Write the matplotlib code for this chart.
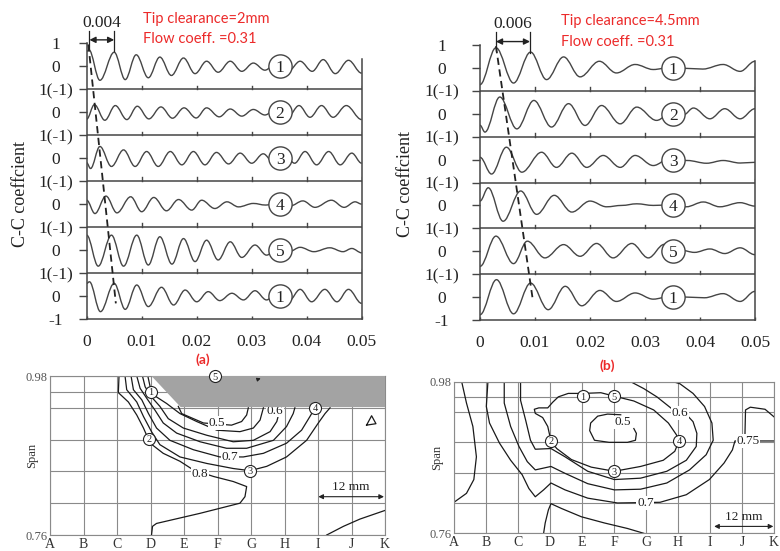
import matplotlib
matplotlib.use("Agg")
import matplotlib.pyplot as plt
from matplotlib.path import Path
from matplotlib.patches import PathPatch, Polygon

SERIF = "Liberation Serif"
SANS = "Lato"
RED = "#ec2a2a"
INK = "#454545"

# ---------------- C-C coefficient traces ----------------
t_ticks = [0, 0.01, 0.02, 0.03, 0.04, 0.05]
t_ticklabels = ["0", "0.01", "0.02", "0.03", "0.04", "0.05"]
probe_labels = ["1", "2", "3", "4", "5", "1"]

# extrema of each trace: time in ms, coefficient
a1_t = [0, 0.4, 2.4, 5.0, 7.0, 9.0, 11.2, 13.3, 15.4, 17.6, 19.7, 21.8, 23.9, 26.1, 28.2, 30.3, 32.4, 34.5, 36.7, 38.8, 41.0, 43.0, 45.2, 47.6, 50.0]
a1_v = [0.65, 0.72, -0.61, 0.61, -0.58, 0.5, -0.5, 0.4, -0.4, 0.36, -0.32, 0.22, -0.26, 0.22, -0.22, 0.14, -0.17, 0.15, -0.2, 0.22, -0.22, 0.29, -0.32, 0.26, -0.3]
a2_t = [0, 1.4, 3.3, 5.2, 7.3, 9.2, 11.3, 13.5, 15.6, 17.7, 19.9, 21.8, 24.1, 26.1, 28.2, 30.3, 32.4, 34.5, 36.6, 38.6, 40.6, 42.7, 44.8, 47.2, 50.0]
a2_v = [-0.3, 0.33, -0.35, 0.29, -0.32, 0.26, -0.29, 0.23, -0.26, 0.19, -0.25, 0.19, -0.2, 0.14, -0.17, 0.12, -0.12, 0.15, -0.2, 0.29, -0.22, 0.29, -0.22, 0.29, -0.32]
a3_t = [0, 0.7, 2.4, 4.5, 6.7, 8.8, 10.9, 13.0, 15.2, 17.3, 19.4, 21.5, 23.6, 25.8, 27.9, 30.0, 32.1, 34.0, 35.9, 37.8, 39.7, 41.8, 44.0, 46.1, 48.2, 50.0]
a3_v = [-0.2, -0.45, 0.51, -0.36, 0.36, -0.36, 0.29, -0.36, 0.29, -0.29, 0.29, -0.29, 0.25, -0.25, 0.22, -0.22, 0.19, -0.2, 0.2, -0.22, 0.29, -0.29, 0.29, -0.29, 0.22, -0.22]
a4_t = [0, 1.5, 3.5, 5.5, 8.0, 10.0, 12.2, 14.5, 16.7, 19.1, 20.9, 23.3, 25.5, 27.6, 30.3, 32.5, 34.8, 37.0, 39.3, 41.5, 44.5, 46.8, 48.8, 50.0]
a4_v = [0.17, -0.41, 0.35, -0.38, 0.32, -0.33, 0.29, -0.29, 0.2, -0.26, 0.17, -0.19, 0.1, -0.12, 0.03, -0.04, 0.05, -0.08, 0.14, -0.14, 0.17, -0.14, 0.1, 0.0]
a5_t = [0, 2.1, 4.5, 6.7, 9.1, 11.2, 13.3, 15.5, 17.6, 19.7, 21.8, 23.9, 26.1, 28.2, 30.6, 32.7, 34.8, 36.8, 38.8, 41.3, 44.2, 46.6, 48.2, 50.0]
a5_v = [0.65, -0.7, 0.65, -0.7, 0.65, -0.65, 0.58, -0.61, 0.5, -0.5, 0.43, -0.43, 0.36, -0.32, 0.22, -0.22, 0.1, -0.07, 0.12, -0.07, 0.1, -0.07, 0.07, -0.12]
a6_t = [0, 0.5, 2.5, 5.0, 7.0, 9.1, 11.2, 13.6, 15.8, 17.9, 20.0, 22.1, 24.2, 26.4, 28.5, 30.6, 32.7, 34.7, 36.8, 38.8, 40.9, 43.3, 45.5, 47.6, 50.0]
a6_v = [0.55, 0.62, -0.68, 0.55, -0.58, 0.48, -0.46, 0.38, -0.39, 0.26, -0.25, 0.19, -0.2, 0.12, -0.17, 0.23, -0.17, 0.2, -0.2, 0.29, -0.25, 0.29, -0.25, 0.29, -0.32]

b1_t = [0, 2.9, 6.1, 9.2, 12.1, 15.2, 18.2, 21.7, 24.8, 28.2, 31.5, 34.5, 37.5, 40.5, 44.2, 47.3, 50.0]
b1_v = [-0.73, 0.88, -0.66, 0.69, -0.51, 0.48, -0.39, 0.29, -0.22, 0.15, -0.07, 0.02, -0.02, -0.05, 0.15, -0.15, 0.29]
b2_t = [0, 0.9, 3.6, 6.7, 9.8, 13.0, 16.1, 19.1, 22.1, 25.5, 28.5, 32.1, 35.0, 37.0, 38.8, 41.8, 44.5, 47.3, 50.0]
b2_v = [-0.5, -0.8, 0.73, -0.66, 0.58, -0.58, 0.44, -0.51, 0.36, -0.44, 0.29, -0.29, 0.1, -0.05, 0.25, -0.22, 0.22, -0.22, 0.22]
b3_t = [0, 2.1, 4.8, 7.6, 11.2, 13.9, 16.7, 19.4, 22.4, 25.5, 28.2, 31.5, 34.5, 37.7, 41.2, 44.2, 47.3, 50.0]
b3_v = [0.1, -0.63, 0.54, -0.55, 0.32, -0.34, 0.28, -0.34, 0.18, -0.34, 0.18, -0.26, 0.05, -0.04, -0.16, -0.04, -0.15, -0.12]
b4_t = [0, 1.5, 4.2, 7.4, 10.3, 13.5, 16.7, 20.0, 23.0, 25.8, 28.5, 31.5, 34.5, 37.5, 40.6, 43.6, 47.3, 50.0]
b4_v = [0.19, 0.77, -0.69, 0.63, -0.39, 0.44, -0.29, 0.19, -0.06, 0.0, 0.07, 0.0, 0.02, -0.06, 0.15, -0.06, 0.12, -0.03]
b5_t = [0, 2.9, 6.1, 8.6, 11.8, 15.2, 18.2, 21.2, 24.2, 27.6, 30.6, 33.5, 36.5, 39.0, 41.8, 44.5, 47.3, 50.0]
b5_v = [-0.66, 0.66, -0.54, 0.44, -0.29, 0.29, -0.22, 0.34, -0.29, 0.34, -0.29, 0.3, 0.05, -0.05, 0.1, -0.1, 0.15, -0.15]
b6_t = [0, 3.0, 6.1, 9.2, 12.4, 15.5, 18.5, 21.8, 24.8, 28.2, 31.5, 34.5, 37.5, 40.8, 44.2, 47.3, 50.0]
b6_v = [-0.77, 0.76, -0.73, 0.61, -0.55, 0.47, -0.38, 0.29, -0.19, 0.18, -0.09, 0.03, 0.0, -0.03, 0.15, -0.19, 0.25]

# dashed phase line (ms, stacked axis units) and the period marker (ms)
a_dash_t, a_dash_y = [0.3, 5.3], [11.95, 0.68]
b_dash_t, b_dash_y = [2.9, 9.6], [11.95, 0.88]
a_period = (0.5, 5.0, "0.004")
b_period = (2.9, 9.1, "0.006")

# ---------------- span contours (x in grid columns A=0 .. K=10) ----------------
columns = ["A", "B", "C", "D", "E", "F", "G", "H", "I", "J", "K"]
span_grid = [0.76, 0.804, 0.848, 0.892, 0.936, 0.958, 0.98]

ca_05 = [(3.83, 0.938), (3.93, 0.928), (4.28, 0.921), (4.58, 0.915), (5.42, 0.912), (5.72, 0.917), (5.87, 0.926), (5.92, 0.936)]
ca_055 = [(2.92, 0.980), (2.99, 0.965), (3.18, 0.951), (3.48, 0.942), (3.88, 0.928), (4.38, 0.917), (4.98, 0.905), (5.67, 0.903), (6.07, 0.908), (6.27, 0.919), (6.37, 0.936)]
ca_06 = [(2.76, 0.980), (2.84, 0.965), (3.03, 0.951), (3.28, 0.938), (3.53, 0.921), (3.98, 0.908), (4.68, 0.898), (5.47, 0.889), (6.07, 0.891), (6.57, 0.903), (6.77, 0.917), (6.82, 0.926)]
ca_065 = [(2.59, 0.980), (2.69, 0.963), (2.89, 0.949), (3.13, 0.933), (3.38, 0.915), (3.78, 0.901), (4.48, 0.889), (5.27, 0.880), (5.87, 0.880), (6.67, 0.891), (7.06, 0.910), (7.26, 0.928), (7.31, 0.936)]
ca_07 = [(2.42, 0.980), (2.49, 0.961), (2.74, 0.947), (2.94, 0.928), (3.18, 0.908), (3.58, 0.891), (4.28, 0.878), (5.07, 0.868), (5.77, 0.868), (6.37, 0.873), (7.06, 0.887), (7.51, 0.905), (7.76, 0.924), (7.91, 0.936)]
ca_075 = [(2.24, 0.980), (2.29, 0.961), (2.59, 0.944), (2.79, 0.924), (3.03, 0.903), (3.28, 0.885), (3.88, 0.868), (4.68, 0.859), (5.47, 0.852), (5.97, 0.849), (6.47, 0.855), (7.06, 0.868), (7.66, 0.891), (8.01, 0.915), (8.21, 0.928), (8.36, 0.936)]
ca_08 = [(2.06, 0.980), (2.04, 0.957), (2.34, 0.944), (2.59, 0.926), (2.79, 0.908), (2.99, 0.887), (3.38, 0.873), (3.88, 0.862), (4.28, 0.850), (4.88, 0.841), (5.47, 0.834), (5.87, 0.827), (5.82, 0.813), (5.67, 0.804), (4.48, 0.790), (3.18, 0.776), (3.06, 0.772), (3.03, 0.760)]
ca_corner = [(8.26, 0.760), (8.76, 0.772), (9.25, 0.782), (10.0, 0.794)]
ca_island = [(9.45, 0.912), (9.60, 0.925), (9.73, 0.914), (9.45, 0.912)]
ca_lines = [ca_05, ca_055, ca_06, ca_065, ca_07, ca_075, ca_08, ca_corner, ca_island]
ca_labels = [("0.5", 4.98, 0.915), ("0.6", 6.72, 0.932), ("0.7", 5.37, 0.868), ("0.8", 4.48, 0.845)]
ca_probes = [("1", 3.0, 0.958), ("2", 2.97, 0.893), ("3", 5.97, 0.849), ("4", 7.91, 0.936), ("5", 4.93, 0.980)]
ca_shroud = [(3.03, 0.980), (3.9, 0.937), (10.0, 0.937), (10.0, 0.980)]
ca_scale = (8.01, 9.97, 0.813)

cb_05 = [(5.21, 0.932), (4.80, 0.933), (4.49, 0.930), (4.27, 0.920), (4.24, 0.909), (4.39, 0.895), (4.85, 0.892), (5.42, 0.892), (5.67, 0.895), (5.70, 0.905), (5.62, 0.912)]
cb_l1 = [(4.03, 0.963), (4.59, 0.964), (5.01, 0.959), (5.62, 0.952), (6.24, 0.939), (6.70, 0.920), (6.95, 0.903), (7.03, 0.894), (6.90, 0.879), (6.54, 0.866), (5.83, 0.857), (5.01, 0.850), (4.29, 0.856), (3.67, 0.867), (3.21, 0.883), (3.03, 0.894), (2.93, 0.915), (2.77, 0.928), (2.54, 0.934), (2.51, 0.940), (2.65, 0.942), (2.93, 0.942), (3.08, 0.950), (3.26, 0.958), (3.57, 0.963), (4.03, 0.963)]
cb_l2 = [(2.08, 0.980), (2.08, 0.953), (2.24, 0.924), (2.39, 0.895), (2.54, 0.882), (3.03, 0.883), (3.47, 0.871), (4.18, 0.850), (5.01, 0.838), (5.83, 0.840), (6.65, 0.850), (7.26, 0.866), (7.57, 0.886), (7.59, 0.905), (7.47, 0.922), (7.31, 0.930), (6.80, 0.941), (6.34, 0.958), (5.93, 0.970), (5.52, 0.980)]
cb_l3 = [(1.57, 0.980), (1.57, 0.949), (1.77, 0.915), (2.03, 0.886), (2.29, 0.864), (2.54, 0.852), (3.03, 0.857), (3.47, 0.847), (4.18, 0.832), (5.01, 0.823), (5.83, 0.824), (6.65, 0.833), (7.36, 0.852), (7.88, 0.874), (8.10, 0.895), (8.06, 0.920), (7.83, 0.944), (7.47, 0.963), (7.06, 0.977), (6.85, 0.980)]
cb_l4 = [(1.06, 0.980), (1.01, 0.944), (1.11, 0.920), (1.42, 0.891), (1.77, 0.866), (2.13, 0.845), (2.34, 0.825), (2.54, 0.813), (2.80, 0.823), (3.03, 0.833), (3.47, 0.823), (4.18, 0.811), (5.11, 0.804), (6.44, 0.805), (7.26, 0.816), (7.98, 0.838), (8.44, 0.862), (8.70, 0.881), (8.78, 0.894), (10.0, 0.894)]
cb_l5 = [(2.80, 0.760), (2.85, 0.775), (2.95, 0.794), (3.03, 0.803), (3.36, 0.796), (3.98, 0.784), (4.70, 0.775), (5.42, 0.767), (5.93, 0.760)]
cb_left = [(0.24, 0.980), (0.39, 0.949), (0.59, 0.915), (0.70, 0.871), (0.62, 0.838), (0.39, 0.818), (0.0, 0.805)]
cb_right = [(9.09, 0.898), (9.11, 0.939), (9.26, 0.943), (9.72, 0.940), (10.0, 0.929)]
cb_lines = [cb_05, cb_l1, cb_l2, cb_l3, cb_l4, cb_l5, cb_left, cb_right]
cb_labels = [("0.5", 5.26, 0.921), ("0.6", 7.06, 0.935), ("0.7", 5.98, 0.804), ("0.75", 9.19, 0.894)]
cb_probes = [("1", 4.03, 0.959), ("5", 5.01, 0.959), ("2", 3.03, 0.894), ("3", 5.01, 0.850), ("4", 7.03, 0.894)]
cb_scale = (8.13, 9.98, 0.770)

W, H = 780, 551


def px_box(left, top, right, bottom):
    return [left / W, 1 - bottom / H, (right - left) / W, (bottom - top) / H]


def wave_path(t_ms, vals, offset):
    # smooth curve through the read extrema (horizontal tangent at each)
    verts = [(t_ms[0] * 1e-3, vals[0] + offset)]
    codes = [Path.MOVETO]
    for i in range(len(t_ms) - 1):
        t0, t1 = t_ms[i] * 1e-3, t_ms[i + 1] * 1e-3
        y0, y1 = vals[i] + offset, vals[i + 1] + offset
        d = (t1 - t0) * 0.36
        verts += [(t0 + d, y0), (t1 - d, y1), (t1, y1)]
        codes += [Path.CURVE4] * 3
    return Path(verts, codes)


def draw_cc(ax, traces, dash_t, dash_y, period, tick_pad, ylab_xy):
    for k, (t, v) in enumerate(traces):
        ax.add_patch(PathPatch(wave_path(t, v, 11 - 2 * k), fill=False,
                               ec=INK, lw=1.0, zorder=2))
    for y in (2, 4, 6, 8, 10):
        ax.axhline(y, color=INK, lw=1.1, zorder=1)
        for t in t_ticks[1:]:
            ax.plot([t, t], [y, y + 0.16], color=INK, lw=1.0, zorder=1)
    ax.plot([0.05, 0.05], [0, 11.3], color=INK, lw=1.1, clip_on=False)

    ax.set_xlim(0, 0.05)
    ax.set_ylim(0, 12)
    for s in ("top", "right"):
        ax.spines[s].set_visible(False)
    for s in ("left", "bottom"):
        ax.spines[s].set_color(INK)
        ax.spines[s].set_linewidth(1.1)

    ax.set_xticks(t_ticks, t_ticklabels)
    ylabels = ["-1"] + ["0" if i % 2 else "1(-1)" for i in range(1, 12)] + ["1"]
    ax.set_yticks(range(13), ylabels)
    ax.tick_params(axis="x", direction="in", length=2.5, width=1.0, color=INK, pad=11)
    ax.tick_params(axis="y", direction="out", length=6, width=1.0, color=INK, pad=tick_pad)
    for lbl in ax.get_xticklabels() + ax.get_yticklabels():
        lbl.set_fontfamily(SERIF)
        lbl.set_fontsize(12.5)
        lbl.set_color("#222222")
    for lbl in ax.get_yticklabels():
        lbl.set_horizontalalignment("center")

    ax.set_ylabel("C-C coeffcient", fontfamily=SERIF, fontsize=13, color="#222222")
    ax.yaxis.set_label_coords(*ylab_xy)

    # probe circles
    ys = [11 - 2 * k for k in range(6)]
    ax.scatter([0.03515] * 6, ys, s=280, c="white", edgecolors=INK,
               linewidths=1.0, zorder=4)
    for lab, y in zip(probe_labels, ys):
        ax.text(0.03515, y, lab, ha="center", va="center_baseline",
                fontfamily=SERIF, fontsize=12.5, color="#222222", zorder=5)

    ax.plot([t * 1e-3 for t in dash_t], dash_y, ls=(0, (4, 2.5)),
            color="#222222", lw=1.3, zorder=3)

    t0, t1, txt = period
    ax.plot([t0 * 1e-3] * 2, [11.75, 12.55], color="#222222", lw=0.9, clip_on=False)
    ax.plot([t1 * 1e-3] * 2, [11.65, 12.55], color="#222222", lw=0.9, clip_on=False)
    ax.annotate("", xy=(t1 * 1e-3, 12.15), xytext=(t0 * 1e-3, 12.15),
                arrowprops=dict(arrowstyle="<|-|>", color="#222222", lw=1.0,
                                mutation_scale=9, shrinkA=0, shrinkB=0),
                annotation_clip=False)
    ax.text((t0 + t1) / 2 * 1e-3, 12.9, txt, ha="center", va="center",
            fontfamily=SERIF, fontsize=12.5, color="#222222", clip_on=False)


def draw_contour(ax, lines, labels, probes, scale, shroud=None):
    ax.set_xlim(0, 10)
    ax.set_ylim(0.76, 0.98)
    ax.set_xticks(range(11), columns)
    ylabels = ["0.76"] + [""] * (len(span_grid) - 2) + ["0.98"]
    ax.set_yticks(span_grid, ylabels)
    ax.grid(True, color="#8a8a8a", lw=0.8)
    ax.set_axisbelow(True)
    ax.tick_params(length=0, pad=2)
    for lbl in ax.get_xticklabels():
        lbl.set_fontfamily(SERIF)
        lbl.set_fontsize(10)
        lbl.set_color("#333333")
    for lbl in ax.get_yticklabels():
        lbl.set_fontfamily(SERIF)
        lbl.set_fontsize(9)
        lbl.set_color("#555555")
    for s in ax.spines.values():
        s.set_color("#8a8a8a")
        s.set_linewidth(0.8)
    ax.set_ylabel("Span", fontfamily=SERIF, fontsize=9, color="#333333")
    ax.yaxis.set_label_coords(-0.035, 0.5)

    for pts in lines:
        xs, ys = zip(*pts)
        ax.plot(xs, ys, color="#1a1a1a", lw=0.9, zorder=2)
    for txt, x, y in labels:
        ax.text(x, y, txt, ha="center", va="center", fontfamily=SERIF,
                fontsize=9.5, color="#222222", zorder=3,
                bbox=dict(fc="white", ec="none", pad=0.6))
    if shroud is not None:
        ax.add_patch(Polygon(shroud, closed=True, fc="#a3a3a3", ec="none",
                             zorder=4, clip_on=False))
    xs = [p[1] for p in probes]
    ys = [p[2] for p in probes]
    ax.scatter(xs, ys, s=75, c="white", edgecolors="#222222", linewidths=0.8,
               zorder=5, clip_on=False)
    for lab, x, y in probes:
        ax.text(x, y, lab, ha="center", va="center_baseline", fontfamily=SERIF,
                fontsize=7.5, color="#222222", zorder=6)

    x0, x1, y = scale
    ax.annotate("", xy=(x1, y), xytext=(x0, y),
                arrowprops=dict(arrowstyle="<|-|>", color="#222222", lw=0.8,
                                mutation_scale=7, shrinkA=0, shrinkB=0))
    ax.text((x0 + x1) / 2, y + 0.014, "12 mm", ha="center", va="center",
            fontfamily=SERIF, fontsize=9.5, color="#222222")


fig = plt.figure(figsize=(7.8, 5.51), dpi=100)

ax_a = fig.add_axes(px_box(86.7, 43.3, 361.7, 319))
draw_cc(ax_a, [(a1_t, a1_v), (a2_t, a2_v), (a3_t, a3_v), (a4_t, a4_v),
               (a5_t, a5_v), (a6_t, a6_v)],
        a_dash_t, a_dash_y, a_period, tick_pad=16.5, ylab_xy=(-0.21, 0.455))

ax_b = fig.add_axes(px_box(480, 45, 755, 320))
draw_cc(ax_b, [(b1_t, b1_v), (b2_t, b2_v), (b3_t, b3_v), (b4_t, b4_v),
               (b5_t, b5_v), (b6_t, b6_v)],
        b_dash_t, b_dash_y, b_period, tick_pad=21.5, ylab_xy=(-0.24, 0.495))

ax_ca = fig.add_axes(px_box(50, 376, 385, 535))
draw_contour(ax_ca, ca_lines, ca_labels, ca_probes, ca_scale, shroud=ca_shroud)
ax_ca.annotate("", xy=(6.37, 0.978), xytext=(6.12, 0.974),
               arrowprops=dict(arrowstyle="-|>", color="#222222", lw=0.8,
                               mutation_scale=5), zorder=5)

ax_cb = fig.add_axes(px_box(454, 381.7, 774, 533.3))
draw_contour(ax_cb, cb_lines, cb_labels, cb_probes, cb_scale)

# red captions
fig.text(143 / W, 1 - 19 / H, "Tip clearance=2mm", fontfamily=SANS, fontsize=10.5,
         color=RED, va="center")
fig.text(143 / W, 1 - 39 / H, "Flow coeff. =0.31", fontfamily=SANS, fontsize=10.5,
         color=RED, va="center")
fig.text(561 / W, 1 - 21.5 / H, "Tip clearance=4.5mm", fontfamily=SANS, fontsize=10.5,
         color=RED, va="center")
fig.text(561 / W, 1 - 41.5 / H, "Flow coeff. =0.31", fontfamily=SANS, fontsize=10.5,
         color=RED, va="center")
fig.text(203 / W, 1 - 360 / H, "(a)", fontfamily=SANS, fontsize=10, weight="bold",
         color=RED, ha="center", va="center")
fig.text(607 / W, 1 - 366 / H, "(b)", fontfamily=SANS, fontsize=10, weight="bold",
         color=RED, ha="center", va="center")

fig.savefig("out.png", dpi=100, facecolor="white")
